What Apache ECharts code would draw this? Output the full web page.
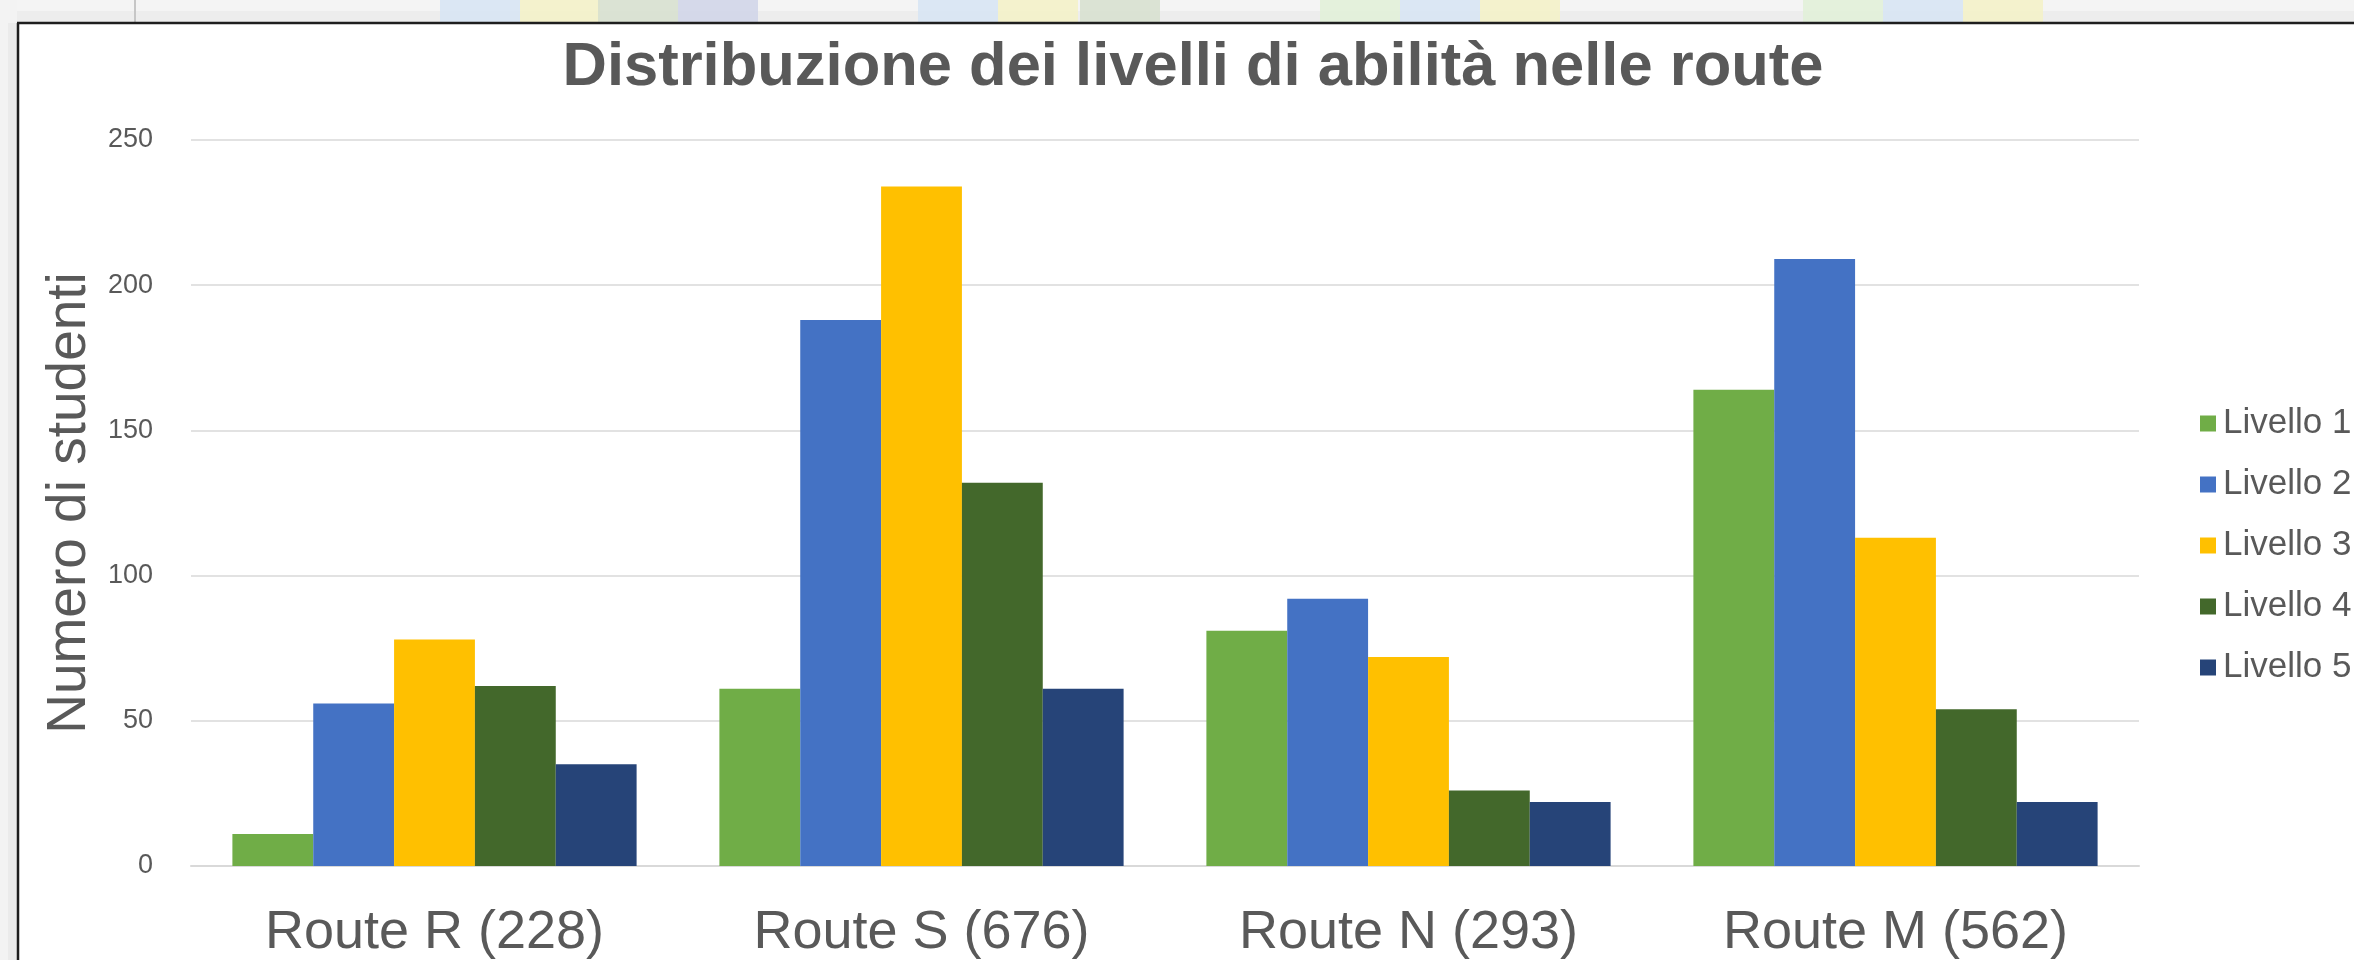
<!DOCTYPE html>
<html>
<head>
<meta charset="utf-8">
<script src="https://cdn.jsdelivr.net/npm/echarts@6/dist/echarts.min.js"></script>
<style>
  html, body { margin: 0; padding: 0; background: #ffffff; }
  #chart { width: 2354px; height: 960px; }
</style>
</head>
<body>
<div id="chart"></div>
<script>
// Student counts per skill level, one array per level, one entry per route
const routes = ['Route R (228)', 'Route S (676)', 'Route N (293)', 'Route M (562)'];
const levelNames = ['Livello 1', 'Livello 2', 'Livello 3', 'Livello 4', 'Livello 5'];
const livello1 = [11, 61, 81, 164];
const livello2 = [56, 188, 92, 209];
const livello3 = [78, 234, 72, 113];
const livello4 = [62, 132, 26, 54];
const livello5 = [35, 61, 22, 22];
const yTicks = [0, 50, 100, 150, 200, 250];

const levelColors = ['#70AD47', '#4472C4', '#FFC000', '#43682B', '#264478'];
const levelValues = [livello1, livello2, livello3, livello4, livello5];

const FONT = '"Liberation Sans", Arial, sans-serif';
const TEXT = '#595959';

// Spreadsheet strip behind the chart frame
const STRIP = 23;
const cellBlocks = [
  [440, '#d6e4f3'], [520, '#f3f1c6'], [598, '#d6dfce'], [678, '#cfd4e7'],
  [918, '#d6e4f3'], [998, '#f3f1c6'], [1080, '#d6dfce'],
  [1320, '#e1f0d7'], [1400, '#d6e4f3'], [1480, '#f3f1c6'],
  [1803, '#e1f0d7'], [1883, '#d6e4f3'], [1963, '#f3f1c6']
];
const backdrop = [
  { type: 'rect', shape: { x: 0, y: 0, width: 2354, height: STRIP }, style: { fill: '#f4f4f4' }, z: -10 },
  { type: 'rect', shape: { x: 0, y: 11, width: 2354, height: STRIP - 11 }, style: { fill: '#ededed' }, z: -10 },
  { type: 'rect', shape: { x: 0, y: 0, width: 17, height: 960 }, style: { fill: '#f3f3f3' }, z: -10 },
  { type: 'rect', shape: { x: 8, y: STRIP, width: 9, height: 960 - STRIP }, style: { fill: '#ebebeb' }, z: -10 }
];
cellBlocks.forEach(function (b) {
  backdrop.push({ type: 'rect', shape: { x: b[0], y: 0, width: 80, height: STRIP }, style: { fill: b[1], opacity: 0.85 }, z: -9 });
});
backdrop.push({ type: 'line', shape: { x1: 135, y1: 0, x2: 135, y2: STRIP }, style: { stroke: '#c6c6c6', lineWidth: 2 }, z: -8 });
// Chart frame edges (top and left)
backdrop.push({ type: 'line', shape: { x1: 17, y1: STRIP, x2: 2354, y2: STRIP }, style: { stroke: '#1e1e1e', lineWidth: 2.5 }, z: 50 });
backdrop.push({ type: 'line', shape: { x1: 18, y1: STRIP, x2: 18, y2: 960 }, style: { stroke: '#1e1e1e', lineWidth: 2.5 }, z: 50 });

const chart = echarts.init(document.getElementById('chart'), null, { renderer: 'canvas' });

chart.setOption({
  animation: false,
  backgroundColor: '#ffffff',
  textStyle: { fontFamily: FONT },
  graphic: backdrop,
  title: {
    text: 'Distribuzione dei livelli di abilità nelle route',
    left: 1188,
    textAlign: 'center',
    top: 32,
    textStyle: { fontFamily: FONT, fontWeight: 'bold', fontSize: 61.5, color: TEXT }
  },
  legend: {
    orient: 'vertical',
    left: 2195,
    top: 401,
    itemWidth: 16,
    itemHeight: 16,
    itemGap: 26,
    icon: 'rect',
    data: levelNames,
    textStyle: { fontFamily: FONT, fontSize: 35, color: TEXT, padding: [0, 0, 0, 2] }
  },
  grid: { left: 191, right: 215, top: 140, bottom: 92, containLabel: false },
  xAxis: {
    type: 'category',
    data: routes,
    axisLine: { show: true, lineStyle: { color: '#d9d9d9', width: 2 } },
    axisTick: { show: false },
    axisLabel: { fontFamily: FONT, fontSize: 54, color: TEXT, margin: 40 }
  },
  yAxis: {
    type: 'value',
    min: yTicks[0],
    max: yTicks[yTicks.length - 1],
    interval: yTicks[1] - yTicks[0],
    name: 'Numero di studenti',
    nameLocation: 'middle',
    nameRotate: 90,
    nameGap: 70,
    nameTextStyle: { fontFamily: FONT, fontSize: 55, color: TEXT },
    axisLine: { show: false },
    axisTick: { show: false },
    splitLine: { lineStyle: { color: '#d9d9d9', width: 1.5 } },
    axisLabel: { fontFamily: FONT, fontSize: 27, color: TEXT, margin: 38 }
  },
  series: levelNames.map(function (name, i) {
    return {
      name: name,
      type: 'bar',
      data: levelValues[i],
      itemStyle: { color: levelColors[i] },
      barGap: '0%',
      barCategoryGap: '17%'
    };
  })
});
</script>
</body>
</html>
